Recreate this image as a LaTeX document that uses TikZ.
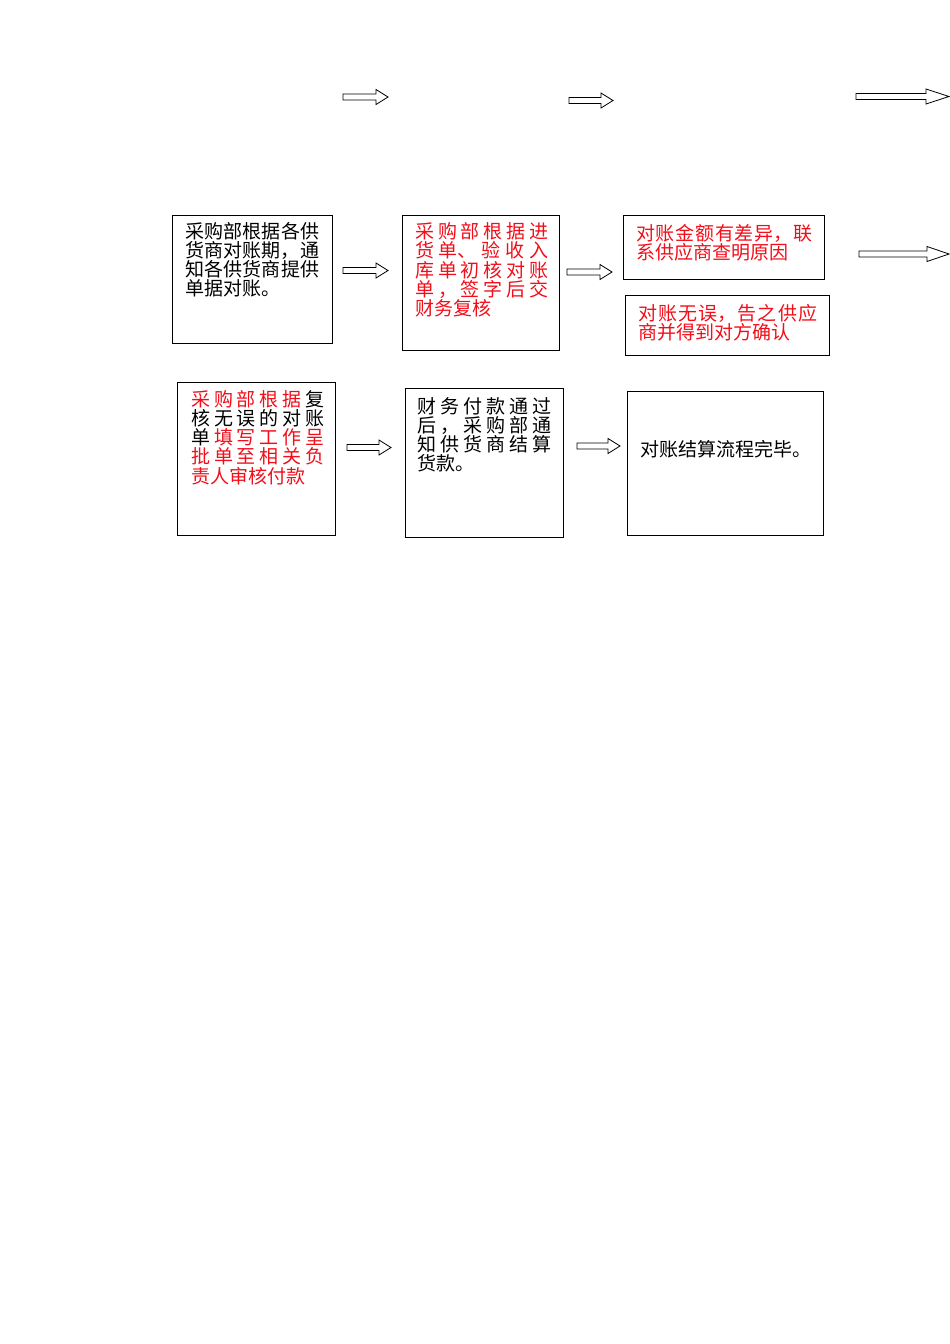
\documentclass[tikz,border=0pt]{standalone}
\usepackage{fontspec}
\setmainfont{Noto Sans CJK SC}
\usepackage{tikz}
\XeTeXlinebreaklocale "zh"
\XeTeXlinebreakskip=0pt plus 6pt
\definecolor{mred}{rgb}{0.95, 0.05, 0.1}

\tikzset{
  kuang/.style={draw, line width=1pt, anchor=north west, inner sep=0pt},
  wenzi/.style={anchor=base west, inner sep=0pt, align=justify,
    font=\fontsize{19}{19.3}\selectfont},
  jiantou/.style={draw, line width=0.8pt, fill=white}
}
% block arrow: tail x, centre y, tip x, head length
\newcommand\kuaijian[4]{%
  \draw[jiantou] (#1,#2-3) -- (#3-#4,#2-3) -- (#3-#4,#2-7.5) -- (#3,#2)
    -- (#3-#4,#2+7.5) -- (#3-#4,#2+3) -- (#1,#2+3) -- cycle;}
\newcommand\jiange{\hspace{0pt plus 6pt}}

\begin{document}
\begin{tikzpicture}[x=1pt, y=-1pt]
  \useasboundingbox (0, 0) rectangle (950, 1344);

  % top row arrows
  \kuaijian{343}{97}{388}{12}
  \kuaijian{569}{100.5}{613}{12}
  \kuaijian{856}{96.5}{949}{23}

  % second row
  \node [kuang, minimum width=160, minimum height=128] (duizhang) at (172, 215) {};
  \node [wenzi, text width=134] (duizhangtxt) at ([shift={(13, 23)}]duizhang.north west)
    {采购部根据各供\linebreak 货商对账期，通\linebreak 知各供货商提供\linebreak 单据对账。};

  \node [kuang, minimum width=157, minimum height=135] (chuhe) at (402, 215) {};
  \node [wenzi, text width=133, text=mred] (chuhetxt) at ([shift={(13, 23.5)}]chuhe.north west)
    {采购部根据进\linebreak 货\jiange 单、验收入\linebreak 库单初核对账\linebreak 单\jiange ，签字后交\linebreak 财务复核};

  \node [kuang, minimum width=201, minimum height=64] (chayi) at (623, 215) {};
  \node [wenzi, text width=176, text=mred] (chayitxt) at ([shift={(13, 25.5)}]chayi.north west)
    {对账金额有差异，联\linebreak 系供应商查明原因};

  \node [kuang, minimum width=204, minimum height=60] (queren) at (625, 295) {};
  \node [wenzi, text width=179, text=mred] (querentxt) at ([shift={(13, 25.5)}]queren.north west)
    {对账无误，告之供应\linebreak 商并得到对方确认};

  \kuaijian{343}{270.5}{388}{12}
  \kuaijian{567}{272}{612}{12}
  \kuaijian{859}{254}{949}{22}

  % third row
  \node [kuang, minimum width=158, minimum height=153] (shenpi) at (177, 382) {};
  \node [wenzi, text width=133] (shenpitxt) at ([shift={(14, 24)}]shenpi.north west)
    {\textcolor{mred}{采购部根据}\jiange 复\linebreak 核无误的对账\linebreak 单\jiange\textcolor{mred}{填写工作呈}\linebreak
     \textcolor{mred}{批单至相关负}\linebreak \textcolor{mred}{责人审核付款}};

  \node [kuang, minimum width=158, minimum height=149] (fukuan) at (405, 388) {};
  \node [wenzi, text width=134] (fukuantxt) at ([shift={(12, 25)}]fukuan.north west)
    {财务付款通过\linebreak 后\jiange ，采购部通\linebreak 知供货商结算\linebreak 货款。};

  \node [kuang, minimum width=196, minimum height=144] (wanbi) at (627, 391) {};
  \node [wenzi] (wanbitxt) at ([shift={(13, -7)}]wanbi.west) {对账结算流程完毕。};

  \kuaijian{347}{447.5}{391}{12}
  \kuaijian{577}{446}{620}{12}
\end{tikzpicture}
\end{document}
